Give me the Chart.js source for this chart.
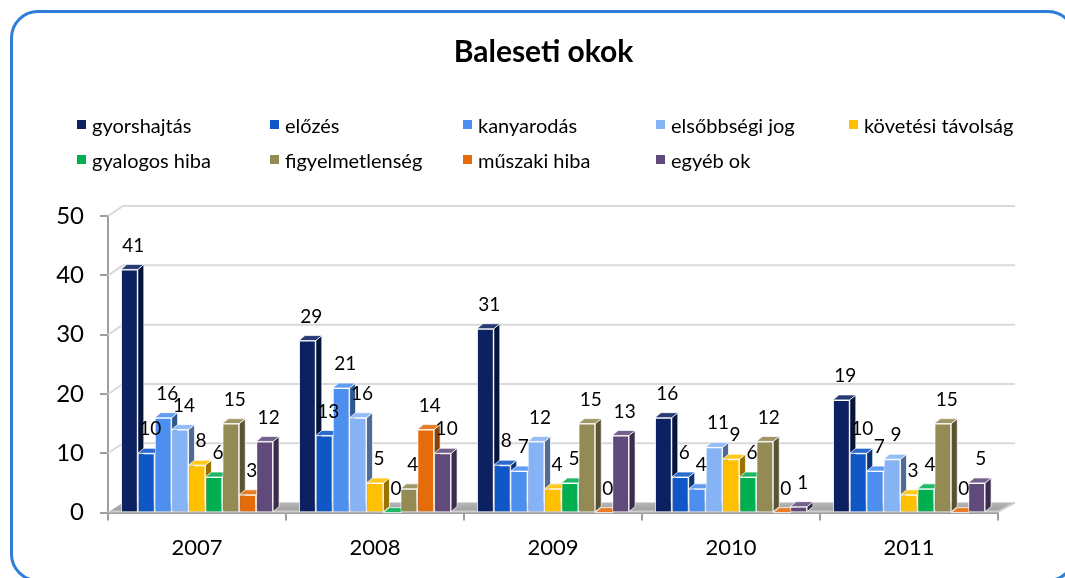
<!DOCTYPE html>
<html>
<head>
<meta charset="utf-8">
<script src="https://cdn.jsdelivr.net/npm/chart.js@4.4.1/dist/chart.umd.min.js"></script>
<style>
  html, body { margin:0; padding:0; background:#fff; width:1065px; height:578px; overflow:hidden; }
  #wrap { position:relative; width:1065px; height:578px; }
  #frame { position:absolute; left:10px; top:10px; width:1066px; height:572px; box-sizing:border-box;
           border:3.5px solid #2E7DD7; border-radius:28px; }
  canvas { position:absolute; left:0; top:0; }
  #legend { position:absolute; left:77px; top:107px; display:grid;
            grid-template-columns:193px 193px 193px 193px 200px; grid-auto-rows:35px;
            font-family:Lato, sans-serif; font-size:20px; color:#000; }
  .item { display:flex; align-items:center; white-space:nowrap; }
  .sw { width:9px; height:9px; margin-right:6px; flex:none; }
</style>
</head>
<body>
<div id="wrap">
  <div id="frame"></div>
  <canvas id="c" width="1065" height="578"></canvas>
  <div id="legend"></div>
</div>
<script>
const categories = ['2007', '2008', '2009', '2010', '2011'];
const seriesNames = ['gyorshajtás', 'előzés', 'kanyarodás', 'elsőbbségi jog', 'követési távolság',
                     'gyalogos hiba', 'figyelmetlenség', 'műszaki hiba', 'egyéb ok'];
const seriesColors = ['#0B2161', '#0F57C6', '#4C8FEF', '#86B3F6', '#FFC000',
                      '#00B050', '#948A54', '#E46C0A', '#604A7B'];
const gyorshajtas     = [41, 29, 31, 16, 19];
const elozes          = [10, 13, 8, 6, 10];
const kanyarodas      = [16, 21, 7, 4, 7];
const elsobbsegiJog   = [14, 16, 12, 11, 9];
const kovetesiTav     = [8, 5, 4, 9, 3];
const gyalogosHiba    = [6, 0, 5, 6, 4];
const figyelmetlenseg = [15, 4, 15, 12, 15];
const muszakiHiba     = [3, 14, 0, 0, 0];
const egyebOk         = [12, 10, 13, 1, 5];
const yTicks = [0, 10, 20, 30, 40, 50];

const seriesValues = [gyorshajtas, elozes, kanyarodas, elsobbsegiJog, kovetesiTav,
                      gyalogosHiba, figyelmetlenseg, muszakiHiba, egyebOk];

function rgb(hex) {
  const n = parseInt(hex.slice(1), 16);
  return [(n >> 16) & 255, (n >> 8) & 255, n & 255];
}
function darken(hex, f) {
  const [r, g, b] = rgb(hex);
  return `rgb(${Math.round(r * f)},${Math.round(g * f)},${Math.round(b * f)})`;
}
function lighten(hex, f) {
  const [r, g, b] = rgb(hex);
  return `rgb(${Math.round(r + (255 - r) * f)},${Math.round(g + (255 - g) * f)},${Math.round(b + (255 - b) * f)})`;
}

const depthPlugin = {
  id: 'depth',
  beforeDatasetsDraw(chart) {
    const { ctx, chartArea: a } = chart;
    const y = chart.scales.y;
    const wx = 15, wy = 10;
    const z = y.getPixelForValue(0);
    ctx.save();
    // back grid lines with left-wall connectors
    ctx.strokeStyle = '#D9D9D9';
    ctx.lineWidth = 2;
    yTicks.forEach(v => {
      if (v === 0) return;
      const p = y.getPixelForValue(v);
      ctx.beginPath();
      ctx.moveTo(a.left, p);
      ctx.lineTo(a.left + wx, p - wy);
      ctx.lineTo(a.right + wx + 2, p - wy);
      ctx.stroke();
    });
    // floor
    const g = ctx.createLinearGradient(0, z - wy, 0, z);
    g.addColorStop(0, '#B5B5B5');
    g.addColorStop(1, '#9C9C9C');
    ctx.fillStyle = g;
    ctx.beginPath();
    ctx.moveTo(a.left, z);
    ctx.lineTo(a.right, z);
    ctx.lineTo(a.right + wx + 2, z - wy);
    ctx.lineTo(a.left + wx, z - wy);
    ctx.closePath();
    ctx.fill();
    ctx.strokeStyle = '#CFCFCF';
    ctx.lineWidth = 2;
    ctx.beginPath();
    ctx.moveTo(a.left, z - 1);
    ctx.lineTo(a.right, z - 1);
    ctx.lineTo(a.right + wx + 2, z - wy);
    ctx.stroke();
    // bar depth: side and top faces
    const dx = 6, dy = 5;
    chart.data.datasets.forEach((ds, i) => {
      const meta = chart.getDatasetMeta(i);
      const col = seriesColors[i];
      meta.data.forEach(bar => {
        const { x, y: top, base, width } = bar.getProps(['x', 'y', 'base', 'width'], true);
        const l = x - width / 2, r = x + width / 2;
        ctx.lineWidth = 1;
        ctx.strokeStyle = 'rgba(255,255,255,0.75)';
        ctx.fillStyle = darken(col, 0.6);
        ctx.beginPath();
        ctx.moveTo(r, top); ctx.lineTo(r + dx, top - dy);
        ctx.lineTo(r + dx, base - dy); ctx.lineTo(r, base);
        ctx.closePath(); ctx.fill(); ctx.stroke();
        ctx.fillStyle = lighten(col, 0.12);
        ctx.beginPath();
        ctx.moveTo(l, top); ctx.lineTo(l + dx, top - dy);
        ctx.lineTo(r + dx, top - dy); ctx.lineTo(r, top);
        ctx.closePath(); ctx.fill(); ctx.stroke();
      });
    });
    ctx.restore();
  },
  afterDatasetsDraw(chart) {
    const { ctx } = chart;
    ctx.save();
    ctx.font = '19px Lato, sans-serif';
    ctx.fillStyle = '#000';
    ctx.textAlign = 'center';
    ctx.textBaseline = 'middle';
    chart.data.datasets.forEach((ds, i) => {
      const meta = chart.getDatasetMeta(i);
      meta.data.forEach((bar, j) => {
        const { x, y: top } = bar.getProps(['x', 'y'], true);
        ctx.fillText(String(ds.data[j]), x + 4, top - 24);
      });
    });
    ctx.restore();
  }
};

const datasets = seriesNames.map((name, i) => ({
  label: name,
  data: seriesValues[i],
  backgroundColor: seriesColors[i],
  borderColor: 'rgba(255,255,255,0.85)',
  borderWidth: 1,
  barPercentage: 1,
  categoryPercentage: 0.855
}));

new Chart(document.getElementById('c'), {
  type: 'bar',
  data: { labels: categories, datasets },
  options: {
    responsive: false,
    animation: false,
    devicePixelRatio: 1,
    layout: { padding: { top: 34, left: 55, right: 33, bottom: 3 } },
    plugins: {
      legend: { display: false },
      tooltip: { enabled: false },
      title: {
        display: true,
        text: 'Baleseti okok',
        color: '#000',
        font: { family: 'Lato', size: 30, weight: 'bold' },
        padding: { top: 0, bottom: 146 }
      }
    },
    scales: {
      x: {
        grid: { drawOnChartArea: false, tickLength: 8, color: '#9E9E9E', lineWidth: 2, offset: true },
        border: { display: true, color: '#9E9E9E', width: 2 },
        ticks: { color: '#000', font: { family: 'Lato', size: 22 }, padding: 14 }
      },
      y: {
        min: 0, max: 50,
        afterFit: s => { s.width = 53; },
        afterBuildTicks: s => { s.ticks = yTicks.map(v => ({ value: v })); },
        grid: { drawOnChartArea: false, tickLength: 8, color: '#9E9E9E', lineWidth: 2 },
        border: { display: true, color: '#9E9E9E', width: 2 },
        ticks: { color: '#000', font: { family: 'Lato', size: 24 }, padding: 16 }
      },
      yRightSpace: {
        position: 'right',
        display: true,
        afterFit: s => { s.width = 34; },
        grid: { display: false },
        border: { display: false },
        ticks: { display: false }
      }
    }
  },
  plugins: [depthPlugin]
});

const legend = document.getElementById('legend');
seriesNames.forEach((name, i) => {
  const item = document.createElement('div');
  item.className = 'item';
  const sw = document.createElement('span');
  sw.className = 'sw';
  sw.style.background = seriesColors[i];
  const t = document.createElement('span');
  t.textContent = name;
  item.appendChild(sw);
  item.appendChild(t);
  legend.appendChild(item);
});
</script>
</body>
</html>
